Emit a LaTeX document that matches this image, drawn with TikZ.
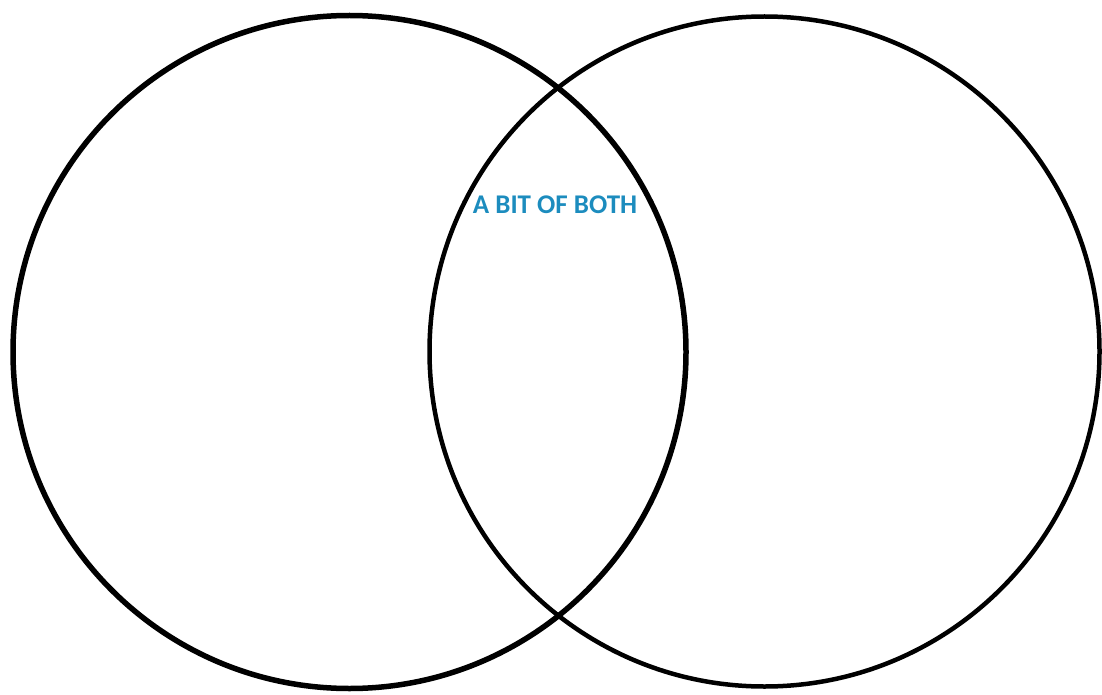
\documentclass[tikz,border=0pt]{standalone}
\usepackage{fontspec}
\usepackage{xcolor}
\usetikzlibrary{positioning}
\newfontfamily\labelfont{Carlito}
\definecolor{both}{RGB}{28, 140, 190}

\begin{document}
\begin{tikzpicture}[
    x=1pt, y=-1pt,
    ring/.style={
        draw=black,
        circle,
        inner sep=0pt,
        line width=#1
    },
    ring/.default=5pt,
    lbl/.style={font=\labelfont\bfseries\fontsize{27}{31}\selectfont, text=both, inner sep=0pt}
]
\useasboundingbox (0,0) rectangle (1102,695);

% === Left set ===
\node[ring=5.5pt, minimum size=673pt] (setA) at (349.5,352) {};

% === Right set ===
\node[ring=4.5pt, minimum size=670pt] (setB) at (764.5,351.5) {};

% === Overlap ===
\node[lbl] (overlap) at (555,205) {A BIT OF BOTH};

\end{tikzpicture}
\end{document}
